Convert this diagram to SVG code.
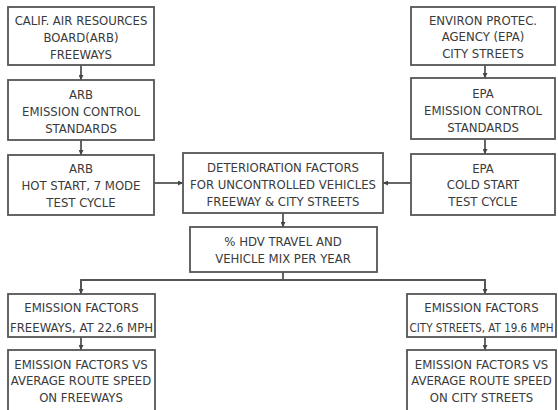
<svg xmlns="http://www.w3.org/2000/svg" width="558" height="410" viewBox="0 0 558 410">
<defs>
<marker id="ah" viewBox="0 0 10 10" refX="10" refY="5" markerWidth="5" markerHeight="5" orient="auto" markerUnits="userSpaceOnUse">
<path d="M0,0 L10,5 L0,10 z" fill="#444"/>
</marker>
<style>
rect{fill:#fff;stroke:#555;stroke-width:1.8}
text{font-family:"DejaVu Sans Condensed","DejaVu Sans",sans-serif;font-size:13px;fill:#3a3a3a;text-anchor:middle}
.c line,.c path{stroke:#555;stroke-width:1.8;fill:none}
</style>
</defs>
<rect x="0" y="0" width="558" height="410" style="fill:#fff;stroke:none"/>
<g class="c" id="connectors">
<line x1="81" y1="65" x2="81" y2="80" marker-end="url(#ah)"/>
<line x1="81" y1="140" x2="81" y2="155" marker-end="url(#ah)"/>
<line x1="485" y1="65" x2="485" y2="78" marker-end="url(#ah)"/>
<line x1="485" y1="139" x2="485" y2="154" marker-end="url(#ah)"/>
<line x1="154" y1="183" x2="183" y2="183" marker-end="url(#ah)"/>
<line x1="411" y1="183" x2="383" y2="183" marker-end="url(#ah)"/>
<line x1="283" y1="213" x2="283" y2="227" marker-end="url(#ah)"/>
<line x1="283" y1="272" x2="283" y2="280"/>
<path d="M81,294 L81,280 L485,280 L485,294"/>
<line x1="81" y1="280" x2="81" y2="294" marker-end="url(#ah)"/>
<line x1="485" y1="280" x2="485" y2="294" marker-end="url(#ah)"/>
<line x1="81" y1="337" x2="81" y2="350" marker-end="url(#ah)"/>
<line x1="485" y1="337" x2="485" y2="350" marker-end="url(#ah)"/>
</g>
<g id="arb-board"><rect x="8" y="7" width="146" height="58"/>
<text x="81" y="25">CALIF. AIR RESOURCES</text><text x="81" y="42">BOARD(ARB)</text><text x="81" y="59">FREEWAYS</text></g>
<g id="arb-standards"><rect x="8" y="80" width="146" height="60"/>
<text x="81" y="99">ARB</text><text x="81" y="116">EMISSION CONTROL</text><text x="81" y="133">STANDARDS</text></g>
<g id="arb-hot"><rect x="8" y="155" width="146" height="60"/>
<text x="81" y="173">ARB</text><text x="81" y="190">HOT START, 7 MODE</text><text x="81" y="207">TEST CYCLE</text></g>
<g id="epa-agency"><rect x="411" y="7" width="144" height="58"/>
<text x="483" y="25">ENVIRON PROTEC.</text><text x="483" y="41">AGENCY (EPA)</text><text x="483" y="58">CITY STREETS</text></g>
<g id="epa-standards"><rect x="411" y="78" width="144" height="61"/>
<text x="483" y="98">EPA</text><text x="483" y="115">EMISSION CONTROL</text><text x="483" y="132">STANDARDS</text></g>
<g id="epa-cold"><rect x="411" y="154" width="144" height="61"/>
<text x="483" y="173">EPA</text><text x="483" y="189">COLD START</text><text x="483" y="206">TEST CYCLE</text></g>
<g id="deterioration"><rect x="183" y="153" width="200" height="60"/>
<text x="283" y="172">DETERIORATION FACTORS</text><text x="283" y="189">FOR UNCONTROLLED VEHICLES</text><text x="283" y="206">FREEWAY &amp; CITY STREETS</text></g>
<g id="hdv"><rect x="190" y="227" width="187" height="45"/>
<text x="283" y="246">% HDV TRAVEL AND</text><text x="283" y="263">VEHICLE MIX PER YEAR</text></g>
<g id="ef-freeways"><rect x="8" y="294" width="147" height="43"/>
<text x="81.5" y="312">EMISSION FACTORS</text><text x="81.5" y="332">FREEWAYS, AT 22.6 MPH</text></g>
<g id="ef-city"><rect x="407" y="294" width="149" height="43"/>
<text x="481.5" y="312">EMISSION FACTORS</text><text x="481.5" y="332" style="font-size:11.5px">CITY STREETS, AT 19.6 MPH</text></g>
<g id="efvs-freeways"><rect x="8" y="350" width="147" height="64"/>
<text x="81" y="369">EMISSION FACTORS VS</text><text x="81" y="385">AVERAGE ROUTE SPEED</text><text x="81" y="402">ON FREEWAYS</text></g>
<g id="efvs-city"><rect x="407" y="350" width="149" height="64"/>
<text x="481.5" y="369">EMISSION FACTORS VS</text><text x="481.5" y="385">AVERAGE ROUTE SPEED</text><text x="481.5" y="402">ON CITY STREETS</text></g>
</svg>
